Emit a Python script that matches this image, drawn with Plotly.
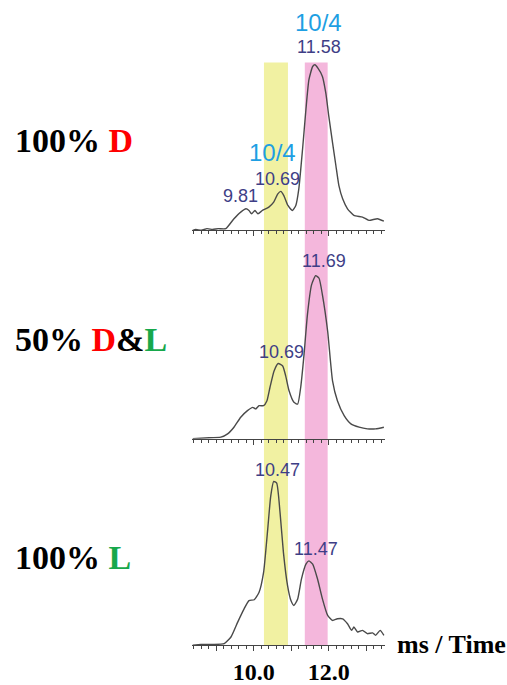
import plotly.graph_objects as go

# ---- data ----
time_d = [8.37, 8.45, 8.6, 8.75, 8.9, 9.05, 9.25, 9.47, 9.65, 9.79, 9.87, 9.94, 10.03, 10.11, 10.23, 10.40,
          10.53, 10.64, 10.72, 10.80, 10.91, 11.03, 11.12, 11.20, 11.30, 11.39, 11.47, 11.57, 11.63, 11.71,
          11.83, 11.92, 12.00, 12.10, 12.19, 12.27, 12.37, 12.50, 12.67, 12.90, 13.07, 13.30, 13.47]
int_d = [0, 0.5, 0, 1, 0.5, 1, 1, 7, 11, 13, 12, 10, 12, 10, 12, 14, 17, 22, 23.5, 21, 15, 12, 15, 25,
         49, 73, 91, 99, 100, 98, 93, 83, 69, 53, 39, 27, 19, 13, 9, 8, 6, 7, 5.5]

time_dl = [8.37, 8.7, 9.12, 9.30, 9.47, 9.65, 9.83, 9.97, 10.05, 10.14, 10.26, 10.35, 10.43, 10.54, 10.65,
           10.77, 10.85, 10.94, 11.07, 11.17, 11.25, 11.34, 11.43, 11.54, 11.65, 11.74, 11.83, 11.97, 12.10,
           12.23, 12.41, 12.59, 12.81, 13.03, 13.25, 13.47]
int_dl = [0, 0.5, 1, 3, 7, 13, 17, 19, 18, 20, 20, 23, 31, 41, 45.5, 44, 38, 29, 22, 21, 31, 51, 75, 93,
          98.6, 97, 87, 65, 35, 23, 14, 9, 7, 6, 6, 7]

time_l = [8.37, 8.59, 8.9, 9.21, 9.39, 9.57, 9.74, 9.87, 10.01, 10.14, 10.26, 10.37, 10.45, 10.53, 10.61,
          10.70, 10.79, 10.90, 10.99, 11.07, 11.17, 11.27, 11.39, 11.47, 11.57, 11.70, 11.83, 11.97, 12.10,
          12.23, 12.37, 12.50, 12.61, 12.67, 12.77, 12.90, 13.03, 13.17, 13.25, 13.37, 13.47]
int_l = [0, 0.5, 0.5, 1, 5, 14, 22, 27, 27.5, 32, 44, 70, 90, 99, 98, 80, 56, 36, 27, 24, 28, 40, 49, 51,
         49, 40, 28, 18, 15, 16, 16, 13, 9, 11, 8, 9, 7, 7.5, 6, 9, 6]

peak_text_d = ["9.81", "10.69", "11.58"]
peak_x_d = [9.65, 10.63, 11.73]
peak_y_d = [21, 31, 111]
iso_text_d = ["10/4", "10/4"]
iso_x_d = [10.51, 11.73]
iso_y_d = [47.3, 125.5]

peak_text_dl = ["10.69", "11.69"]
peak_x_dl = [10.73, 11.87]
peak_y_dl = [52.4, 107.5]

peak_text_l = ["10.47", "11.47"]
peak_x_l = [10.63, 11.65]
peak_y_l = [105.8, 57.9]

band_yellow = [10.27, 10.91]
band_pink = [11.36, 11.97]

tick_vals = [9, 10, 11, 12, 13]
tick_text = ["", "10.0", "", "12.0", ""]

row_labels = ["<b>100% <span style='color:#ff0000'>D</span></b>",
              "<b>50% <span style='color:#ff0000'>D</span>&amp;<span style='color:#17a84b'>L</span></b>",
              "<b>100% <span style='color:#17a84b'>L</span></b>"]

# ---- layout geometry ----
W, H = 507, 685
x_dom = [192 / W, 385 / W]
x_range = [8.35, 13.5]
px_per_unit = 1.667
y_tops = [140, 118, 118]
baselines = [232, 442, 650]
doms = [[(H - b) / H, min(1.0, (H - b + top * px_per_unit) / H)] for b, top in zip(baselines, y_tops)]

line_col = "#4a4a4a"
lab_col = "#3e3e86"
iso_col = "#1e9fe3"

fig = go.Figure()
series = [(time_d, int_d), (time_dl, int_dl), (time_l, int_l)]
for i, (tx, ty) in enumerate(series):
    suf = "" if i == 0 else str(i + 1)
    fig.add_trace(go.Scatter(x=tx, y=ty, mode="lines", xaxis="x" + suf, yaxis="y" + suf,
                             line=dict(color=line_col, width=1.4, shape="spline", smoothing=0.5),
                             showlegend=False, hoverinfo="skip"))

layout = dict(width=W, height=H, margin=dict(l=0, r=0, t=0, b=0),
              paper_bgcolor="white", plot_bgcolor="rgba(0,0,0,0)", showlegend=False)
for i in range(3):
    suf = "" if i == 0 else str(i + 1)
    dom = doms[i]
    top_val = (dom[1] - dom[0]) * H / px_per_unit
    layout["xaxis" + suf] = dict(domain=x_dom, range=x_range, anchor="y" + suf,
                                 showline=True, linecolor="#444444", linewidth=1,
                                 showgrid=False, zeroline=False,
                                 ticks="outside", ticklen=5, tickcolor="#444444", tickwidth=1,
                                 tickvals=tick_vals, ticktext=tick_text,
                                 showticklabels=(i == 2),
                                 tickfont=dict(family="Liberation Serif", size=24, color="black", weight="bold"),
                                 minor=dict(dtick=0.2, ticks="outside", ticklen=3, tickcolor="#444444",
                                            showgrid=False),
                                 fixedrange=True)
    layout["yaxis" + suf] = dict(domain=dom, range=[0, top_val], anchor="x" + suf, visible=False,
                                 fixedrange=True)
fig.update_layout(**layout)

band_top = (H - 63) / H
band_bot = (H - 650) / H
for band, col in [(band_yellow, "#f1f1a2"), (band_pink, "#f4b7dc")]:
    fig.add_shape(type="rect", xref="x3", yref="paper", x0=band[0], x1=band[1], y0=band_bot, y1=band_top,
                  fillcolor=col, line=dict(width=0), layer="below")

ann = []
def add_labels(texts, xs, ys, suf, color, size):
    for t, x, y in zip(texts, xs, ys):
        ann.append(dict(text=t, x=x, y=y, xref="x" + suf, yref="y" + suf, showarrow=False,
                        xanchor="center", yanchor="middle",
                        font=dict(family="Liberation Sans", size=size, color=color)))

add_labels(peak_text_d, peak_x_d, peak_y_d, "", lab_col, 18)
add_labels(iso_text_d, iso_x_d, iso_y_d, "", iso_col, 24)
add_labels(peak_text_dl, peak_x_dl, peak_y_dl, "2", lab_col, 18)
add_labels(peak_text_l, peak_x_l, peak_y_l, "3", lab_col, 18)

label_y = [142, 342, 562]
for t, yy in zip(row_labels, label_y):
    ann.append(dict(text=t, x=13 / W, y=(H - yy) / H, xref="paper", yref="paper", showarrow=False,
                    xanchor="left", yanchor="middle",
                    font=dict(family="Liberation Serif", size=34, color="black")))

ann.append(dict(text="<b>ms / Time</b>", x=395 / W, y=(H - 649) / H, xref="paper", yref="paper",
                showarrow=False, xanchor="left", yanchor="middle",
                font=dict(family="Liberation Serif", size=26, color="black")))

fig.update_layout(annotations=ann)
fig.write_html("out.html", config={"displayModeBar": False},
               post_script="document.body.style.margin='0';document.body.style.overflow='hidden';")
